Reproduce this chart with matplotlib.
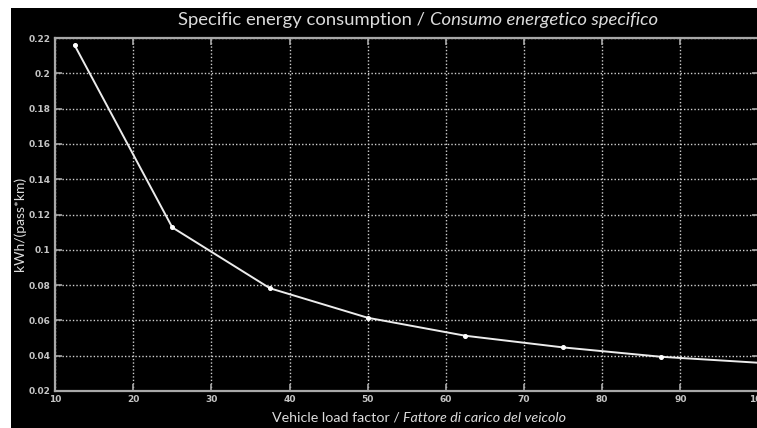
import matplotlib.pyplot as plt
from matplotlib.patches import Rectangle

# load factor (%) and specific consumption
load_factor = [12.5, 25, 37.5, 50, 62.5, 75, 87.5, 100]
consumption = [0.216, 0.1127, 0.0782, 0.0615, 0.0513, 0.0447, 0.0394, 0.0360]

xticks = [10, 20, 30, 40, 50, 60, 70, 80, 90, 100]
yticks = [0.02, 0.04, 0.06, 0.08, 0.1, 0.12, 0.14, 0.16, 0.18, 0.2, 0.22]
ytick_labels = ['0.02', '0.04', '0.06', '0.08', '0.1', '0.12', '0.14', '0.16', '0.18', '0.2', '0.22']

W, H = 757, 428
fig = plt.figure(figsize=(W / 100, H / 100), dpi=100, facecolor='white')
fig.patches.append(Rectangle((11 / W, 0), 1, 1 - 8 / H, transform=fig.transFigure,
                             facecolor='black', edgecolor='none', zorder=-10))

ax = fig.add_axes([55 / W, 1 - 391 / H, 703.5 / W, 353 / H])
ax.set_facecolor('black')
ax.plot(load_factor, consumption, color='#ececec', lw=1.4, marker='o', ms=2.6,
        mfc='white', mec='white', zorder=3)

ax.set_xlim(10, 100)
ax.set_ylim(0.02, 0.22)
ax.set_xticks(xticks)
ax.set_xticklabels([str(t) for t in xticks])
ax.set_yticks(yticks)
ax.set_yticklabels(ytick_labels)
ax.grid(True, color='#d0d0d0', linestyle=(0, (1, 1.5)), lw=1.0)
for s in ax.spines.values():
    s.set_color('#a8a8a8')
    s.set_linewidth(1.6)
ax.tick_params(direction='in', length=5, width=1.2, color='#a8a8a8',
               labelcolor='#c4c4c4', labelsize=6.5, top=True, right=True, pad=3)
for lab in ax.get_xticklabels() + ax.get_yticklabels():
    lab.set_fontweight('bold')

font = 'Lato'
fig.text(20 / W, 1 - 224 / H, 'kWh/(pass*km)', rotation=90, color='#dcdcdc',
         fontsize=10, family=font, ha='center', va='center')


def two_part(cx, cy, normal, italic, size):
    # a normal and an italic piece, centred together on (cx, cy) in pixels
    r = fig.canvas.get_renderer()
    t1 = fig.text(0, 1 - cy / H, normal, color='#dcdcdc', fontsize=size, family=font,
                  va='center')
    t2 = fig.text(0, 1 - cy / H, italic, color='#dcdcdc', fontsize=size, family=font,
                  style='italic', va='center')
    w1 = t1.get_window_extent(r).width
    w2 = t2.get_window_extent(r).width
    x0 = cx - (w1 + w2) / 2
    t1.set_x(x0 / W)
    t2.set_x((x0 + w1) / W)


two_part(418, 20, 'Specific energy consumption / ', 'Consumo energetico specifico', 13.3)
two_part(419, 418, 'Vehicle load factor / ', 'Fattore di carico del veicolo', 10.3)

fig.savefig('out.png', dpi=100, facecolor='white')
